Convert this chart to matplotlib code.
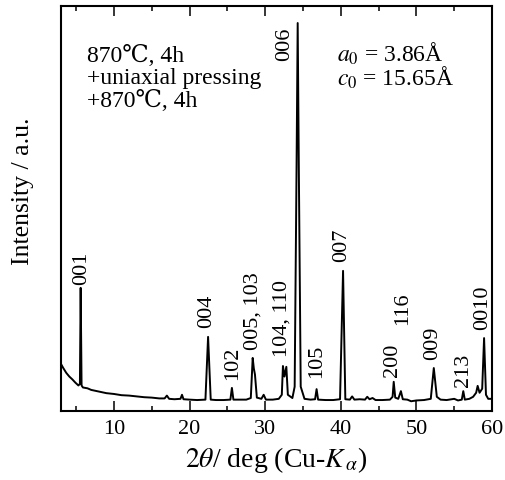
import matplotlib
matplotlib.use('Agg')
from matplotlib import pyplot as plt

# XRD trace, 2theta in deg, intensity in arbitrary units (0-100 full scale)
two_theta = [3.0, 3.3, 3.7, 4.1, 4.5, 4.9, 5.3, 5.5, 5.6, 5.72, 5.9, 6.5, 7.0, 7.5,
             8.0, 9.0, 10.0, 11.0, 12.0, 13.0, 14.0, 15.0, 16.0, 16.7, 17.0, 17.3,
             18.0, 18.8, 19.0, 19.2, 20.0, 21.0, 22.1, 22.45, 22.8, 23.5, 24.5, 25.4,
             25.6, 25.8, 26.5, 27.5, 28.1, 28.35, 28.5, 28.65, 28.9, 29.5, 29.8, 30.1,
             31.0, 31.8, 32.2, 32.35, 32.55, 32.8, 33.0, 33.6, 33.9, 34.15, 34.3, 34.45,
             34.7, 35.2, 36.0, 36.6, 36.8, 37.0, 38.0, 39.0, 39.9, 40.3, 40.6, 41.2,
             41.5, 41.8, 42.5, 43.2, 43.5, 43.8, 44.2, 44.6, 45.5, 46.5, 46.85, 47.0,
             47.2, 47.6, 47.95, 48.2, 48.8, 49.3, 50.0, 51.0, 51.9, 52.3, 52.7, 53.2,
             54.0, 55.0, 55.5, 56.0, 56.2, 56.4, 57.0, 57.5, 57.9, 58.1, 58.35, 58.7,
             58.95, 59.2, 59.5, 60.0]
intensity = [11.6, 10.6, 9.4, 8.5, 7.8, 7.0, 6.3, 6.7, 30.4, 6.3, 5.8, 5.6, 5.2, 5.0,
             4.8, 4.4, 4.2, 3.9, 3.8, 3.6, 3.4, 3.3, 3.1, 3.1, 3.8, 3.0,
             2.9, 3.0, 4.0, 2.9, 2.8, 2.7, 2.8, 18.3, 2.8, 2.7, 2.7, 2.8,
             5.7, 2.8, 2.8, 2.8, 3.2, 13.1, 10.5, 9.0, 3.3, 3.0, 4.0, 2.8,
             2.8, 3.0, 4.0, 11.1, 8.5, 10.9, 4.0, 3.2, 6.0, 60.0, 95.8, 60.0,
             6.0, 3.0, 2.8, 2.9, 5.4, 2.8, 2.7, 2.7, 2.9, 34.6, 2.9, 2.8,
             3.6, 2.8, 2.9, 2.8, 3.5, 2.9, 3.2, 2.7, 2.7, 2.8, 3.5, 7.2,
             3.3, 3.0, 4.9, 2.9, 2.8, 2.4, 2.6, 2.7, 3.0, 10.6, 3.5, 2.8,
             2.7, 3.0, 2.6, 2.8, 4.9, 2.8, 3.0, 3.5, 4.5, 6.2, 4.5, 5.5,
             18.0, 4.0, 3.0, 3.0]

peak_labels = ['001', '004', '102', '005, 103', '104, 110', '006', '105',
               '007', '200', '116', '009', '213', '0010']

plt.rcParams['font.family'] = ['Liberation Serif', 'DejaVu Serif', 'DejaVu Sans']
plt.rcParams['mathtext.fontset'] = 'stix'


def plot_pattern():
    fig = plt.figure(figsize=(5.05, 4.81), dpi=100)
    ax = fig.add_axes([0.1208, 0.1435, 0.8535, 0.8419])
    ax.plot(two_theta, intensity, color='black', lw=1.4)
    ax.set_xlim(3, 60)
    ax.set_ylim(0, 100)

    # label anchors (2theta, intensity, vertical alignment)
    anchors = [(5.77, 31.4, 'bottom'), (22.3, 20.7, 'bottom'), (25.7, 7.9, 'bottom'),
               (28.4, 15.3, 'bottom'), (32.2, 13.6, 'bottom'), (32.6, 95.0, 'top'),
               (36.85, 8.4, 'bottom'), (40.15, 37.0, 'bottom'), (46.9, 8.6, 'bottom'),
               (48.2, 21.5, 'bottom'), (52.1, 12.8, 'bottom'), (56.2, 6.2, 'bottom'),
               (58.7, 20.2, 'bottom')]
    for lab, (x, y, va) in zip(peak_labels, anchors):
        ax.text(x, y, lab, rotation=90, ha='center', va=va, fontsize=16)

    ax.text(0.060, 0.905, '870\u2103, 4h\n+uniaxial pressing\n+870\u2103, 4h',
            transform=ax.transAxes, ha='left', va='top', fontsize=17, linespacing=1.05)
    ax.text(0.640, 0.866, '$a_0$ = 3.86\u00c5',
            transform=ax.transAxes, ha='left', va='baseline', fontsize=17)
    ax.text(0.640, 0.805, '$c_0$ = 15.65\u00c5',
            transform=ax.transAxes, ha='left', va='baseline', fontsize=17)

    ax.set_xticks(range(10, 61, 10))
    ax.set_xticks(range(5, 60, 10), minor=True)
    ax.set_yticks([])
    ax.tick_params(which='both', direction='in', top=True, bottom=True, width=1.1)
    ax.tick_params(which='major', length=7.5, labelsize=16, pad=6)
    ax.tick_params(which='minor', length=3.5)
    for sp in ax.spines.values():
        sp.set_linewidth(1.5)

    ax.set_xlabel(r'$2\theta$/ deg (Cu-$K_{\,\alpha}$)', fontsize=20, labelpad=4)
    ax.set_ylabel('Intensity / a.u.', fontsize=18.5)
    ax.yaxis.set_label_coords(-0.062, 0.546)
    fig.savefig('out.png', dpi=100)


if __name__ == '__main__':
    plot_pattern()
